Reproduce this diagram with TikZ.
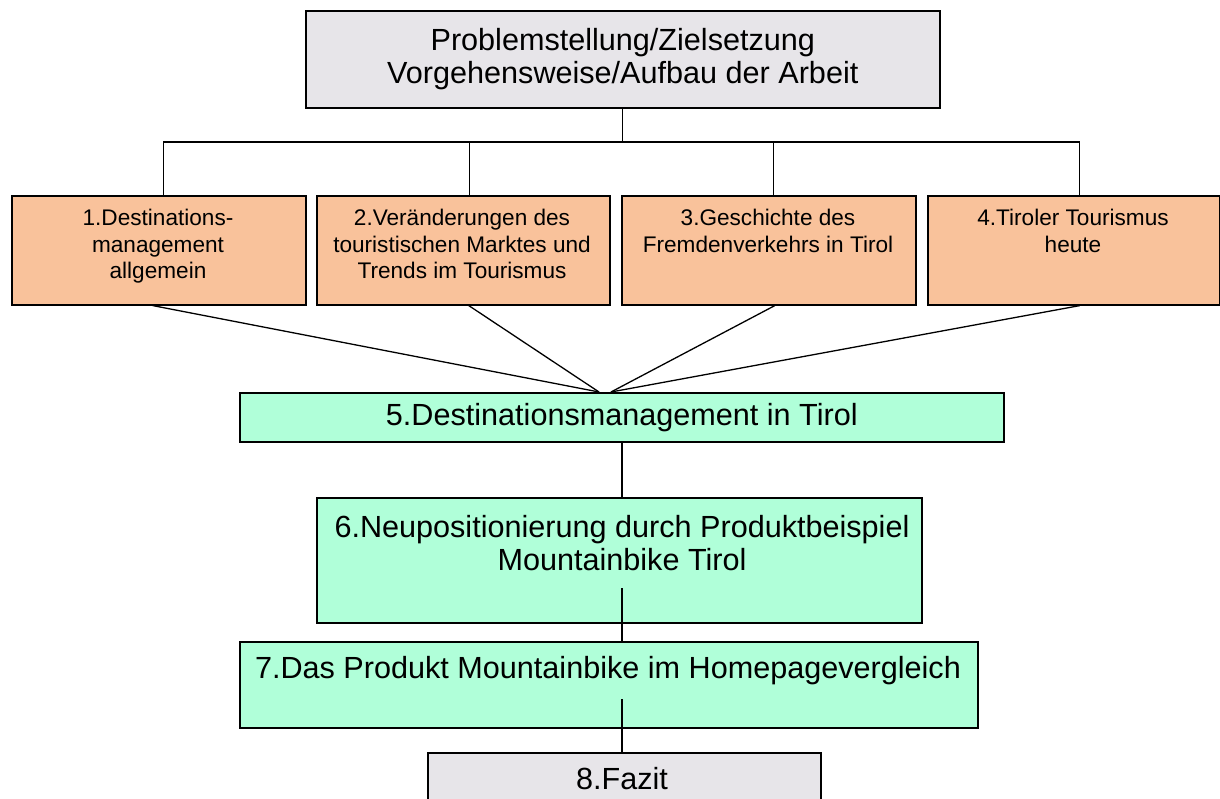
\documentclass[tikz,border=0pt]{standalone}
\usepackage{fontspec}
\setmainfont{Liberation Sans}
\usepackage{tikz}
\usetikzlibrary{positioning,calc}
\definecolor{grauFill}{HTML}{E7E5E9}
\definecolor{kapitel}{HTML}{F9C29B}
\definecolor{minze}{HTML}{B0FFD9}
\tikzset{
  box/.style={draw=black, line width=1.6pt, inner sep=0pt, anchor=north west},
  frame/.style={inner sep=0pt, align=center, anchor=north},
  gross/.style={font=\fontsize{30.6}{33}\selectfont},
  klein/.style={font=\fontsize{22.6}{26.5}\selectfont},
  linie/.style={line width=1.3pt, draw=black}
}

\begin{document}
\begin{tikzpicture}[x=1pt, y=-1pt]
    \useasboundingbox (0,0) rectangle (1220,799);

    %% Einleitung
    \node[box, fill=grauFill, minimum width=634, minimum height=97,
          gross, align=center] (ziel) at (305,10)
          {Problemstellung/Zielsetzung\\Vorgehensweise/Aufbau der Arbeit};

    %% Kapitel 1-4
    \node[box, fill=kapitel, minimum width=294, minimum height=109] (b1) at (11,195) {};
    \node[box, fill=kapitel, minimum width=293, minimum height=109] (b2) at (316,195) {};
    \node[box, fill=kapitel, minimum width=294, minimum height=109] (b3) at (621,195) {};
    \node[box, fill=kapitel, minimum width=292, minimum height=109] (b4) at (927,195) {};
    \node[frame, klein] (t1) at (158,209) {1.Destinations-\\management\\allgemein};
    \node[frame, klein] (t2) at (462,209) {2.Veränderungen des\\touristischen Marktes und\\Trends im Tourismus};
    \node[frame, klein] (t3) at (768,209) {3.Geschichte des\\Fremdenverkehrs in Tirol};
    \node[frame, klein] (t4) at (1073,209) {4.Tiroler Tourismus\\heute};

    %% Kapitel 5-8
    \node[box, fill=minze, minimum width=764, minimum height=49, gross] (b5) at (239,392)
          {5.Destinationsmanagement in Tirol};
    \node[box, fill=minze, minimum width=605, minimum height=125] (b6) at (316,497) {};
    \node[frame, gross, minimum height=91] (t6) at (622,497)
          {6.Neupositionierung durch Produktbeispiel\\Mountainbike Tirol};
    \node[box, fill=minze, minimum width=738, minimum height=86] (b7) at (239,641) {};
    \node[frame, gross, minimum height=58] (t7) at (608,641)
          {7.Das Produkt Mountainbike im Homepagevergleich};
    \node[box, fill=grauFill, minimum width=393, minimum height=70] (b8) at (427,752) {};
    \node[frame, gross, minimum height=52] (t8) at (622,752) {8.Fazit};

    %% Verbindungen
    \coordinate (gabel) at (ziel.south |- 0,142);
    \coordinate (m1) at (599,392);
    \coordinate (m2) at (611,392);
    \draw[linie] (ziel.south) -- (gabel);
    \foreach \b/\dx in {b1/5,b2/6.5,b3/5,b4/6}
        \draw[linie] (gabel) -| ([xshift=\dx pt]\b.north);
    \draw[linie] ([xshift=-6pt]b1.south) -- (m1);
    \draw[linie] ([xshift=5.5pt]b2.south) -- (m1);
    \draw[linie] ([xshift=6pt]b3.south) -- (m2);
    \draw[linie] ([xshift=6pt]b4.south) -- (m2);
    \draw[linie] (t6.north |- b5.south) -- (t6.north);
    \draw[linie] (t6.south) -- (t6.south |- b7.north);
    \draw[linie] (t6.south |- t7.south) -- (t8.north);
\end{tikzpicture}
\end{document}
